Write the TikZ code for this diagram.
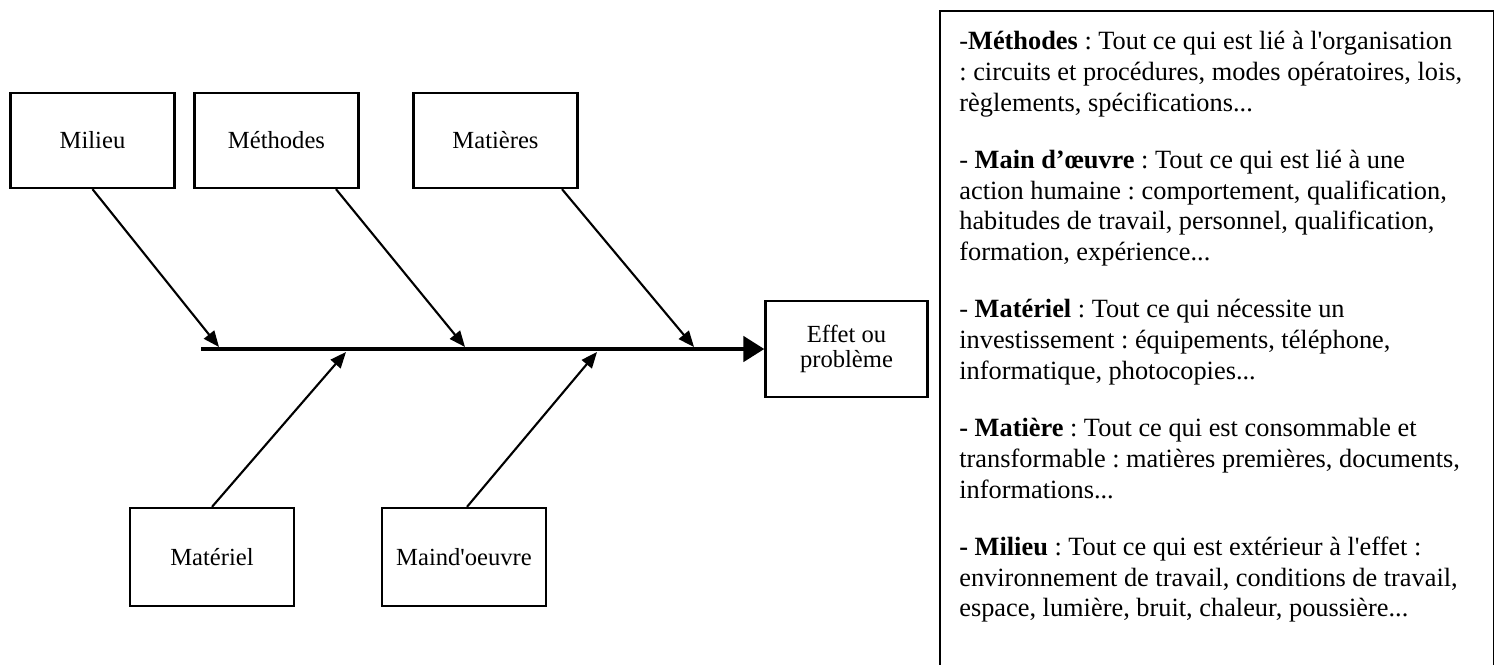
\documentclass[tikz,border=0pt]{standalone}
\usepackage{fontspec}
\setmainfont{Liberation Serif}
\usetikzlibrary{arrows.meta}
\frenchspacing

\begin{document}
\begin{tikzpicture}[x=0.02cm, y=-0.02cm,
    cause/.style={rectangle, draw=black, line width=1.3pt, minimum width=3.28cm, minimum height=1.9cm, align=center, font=\fontsize{14}{14}\selectfont},
    branch/.style={line width=1.2pt, -{Triangle[length=0.32cm, width=0.26cm]}},
    spine/.style={line width=2.6pt, -{Triangle[length=0.42cm, width=0.5cm]}}]

    \useasboundingbox (0,0) rectangle (1495,664);

    % Nodes
    \node[cause] (milieu) at (92.5,140.5) {Milieu};
    \node[cause] (methodes) at (276.5,140.5) {Méthodes};
    \node[cause] (matieres) at (495.5,140.5) {Matières};
    \node[cause, minimum height=1.96cm] (materiel) at (212,557) {Matériel};
    \node[cause, minimum height=1.96cm] (maindoeuvre) at (464,557) {Maind\textquotesingle oeuvre};
    \node[cause, minimum width=3.24cm, minimum height=1.92cm, text depth=0.1cm] (effet) at (846.5,349) {Effet ou\\problème};

    % Spine points
    \coordinate (tail) at (201,349);
    \coordinate (s1) at (219,347);
    \coordinate (s2) at (465,347);
    \coordinate (s3) at (694,347);
    \coordinate (i1) at (346,352);
    \coordinate (i2) at (597,352);

    % Edges
    \draw[spine] (tail) -- (effet.west);
    \draw[branch] (milieu.south) -- (s1);
    \draw[branch] ([xshift=1.19cm]methodes.south) -- (s2);
    \draw[branch] ([xshift=1.33cm]matieres.south) -- (s3);
    \draw[branch] (materiel.north) -- (i1);
    \draw[branch] ([xshift=0.06cm]maindoeuvre.north) -- (i2);

    % Legend
    \node[draw=black, line width=0.9pt, anchor=north west, minimum width=11.08cm, minimum height=13.8cm] (legend) at (939,10) {};
    \node[anchor=north west, inner sep=0pt, align=left, font=\fontsize{15}{17.5}\selectfont] (notes) at ([xshift=0.4cm, yshift=-0.42cm]legend.north west) {%
        -\textbf{Méthodes} : Tout ce qui est lié à l\textquotesingle organisation\\
        : circuits et procédures, modes opératoires, lois,\\
        règlements, spécifications...\\[0.53cm]
        - \textbf{Main d’œuvre} : Tout ce qui est lié à une\\
        action humaine : comportement, qualification,\\
        habitudes de travail, personnel, qualification,\\
        formation, expérience...\\[0.53cm]
        - \textbf{Matériel} : Tout ce qui nécessite un\\
        investissement : équipements, téléphone,\\
        informatique, photocopies...\\[0.53cm]
        \textbf{- Matière} : Tout ce qui est consommable et\\
        transformable : matières premières, documents,\\
        informations...\\[0.53cm]
        \textbf{- Milieu} : Tout ce qui est extérieur à l\textquotesingle effet :\\
        environnement de travail, conditions de travail,\\
        espace, lumière, bruit, chaleur, poussière...};

\end{tikzpicture}
\end{document}
